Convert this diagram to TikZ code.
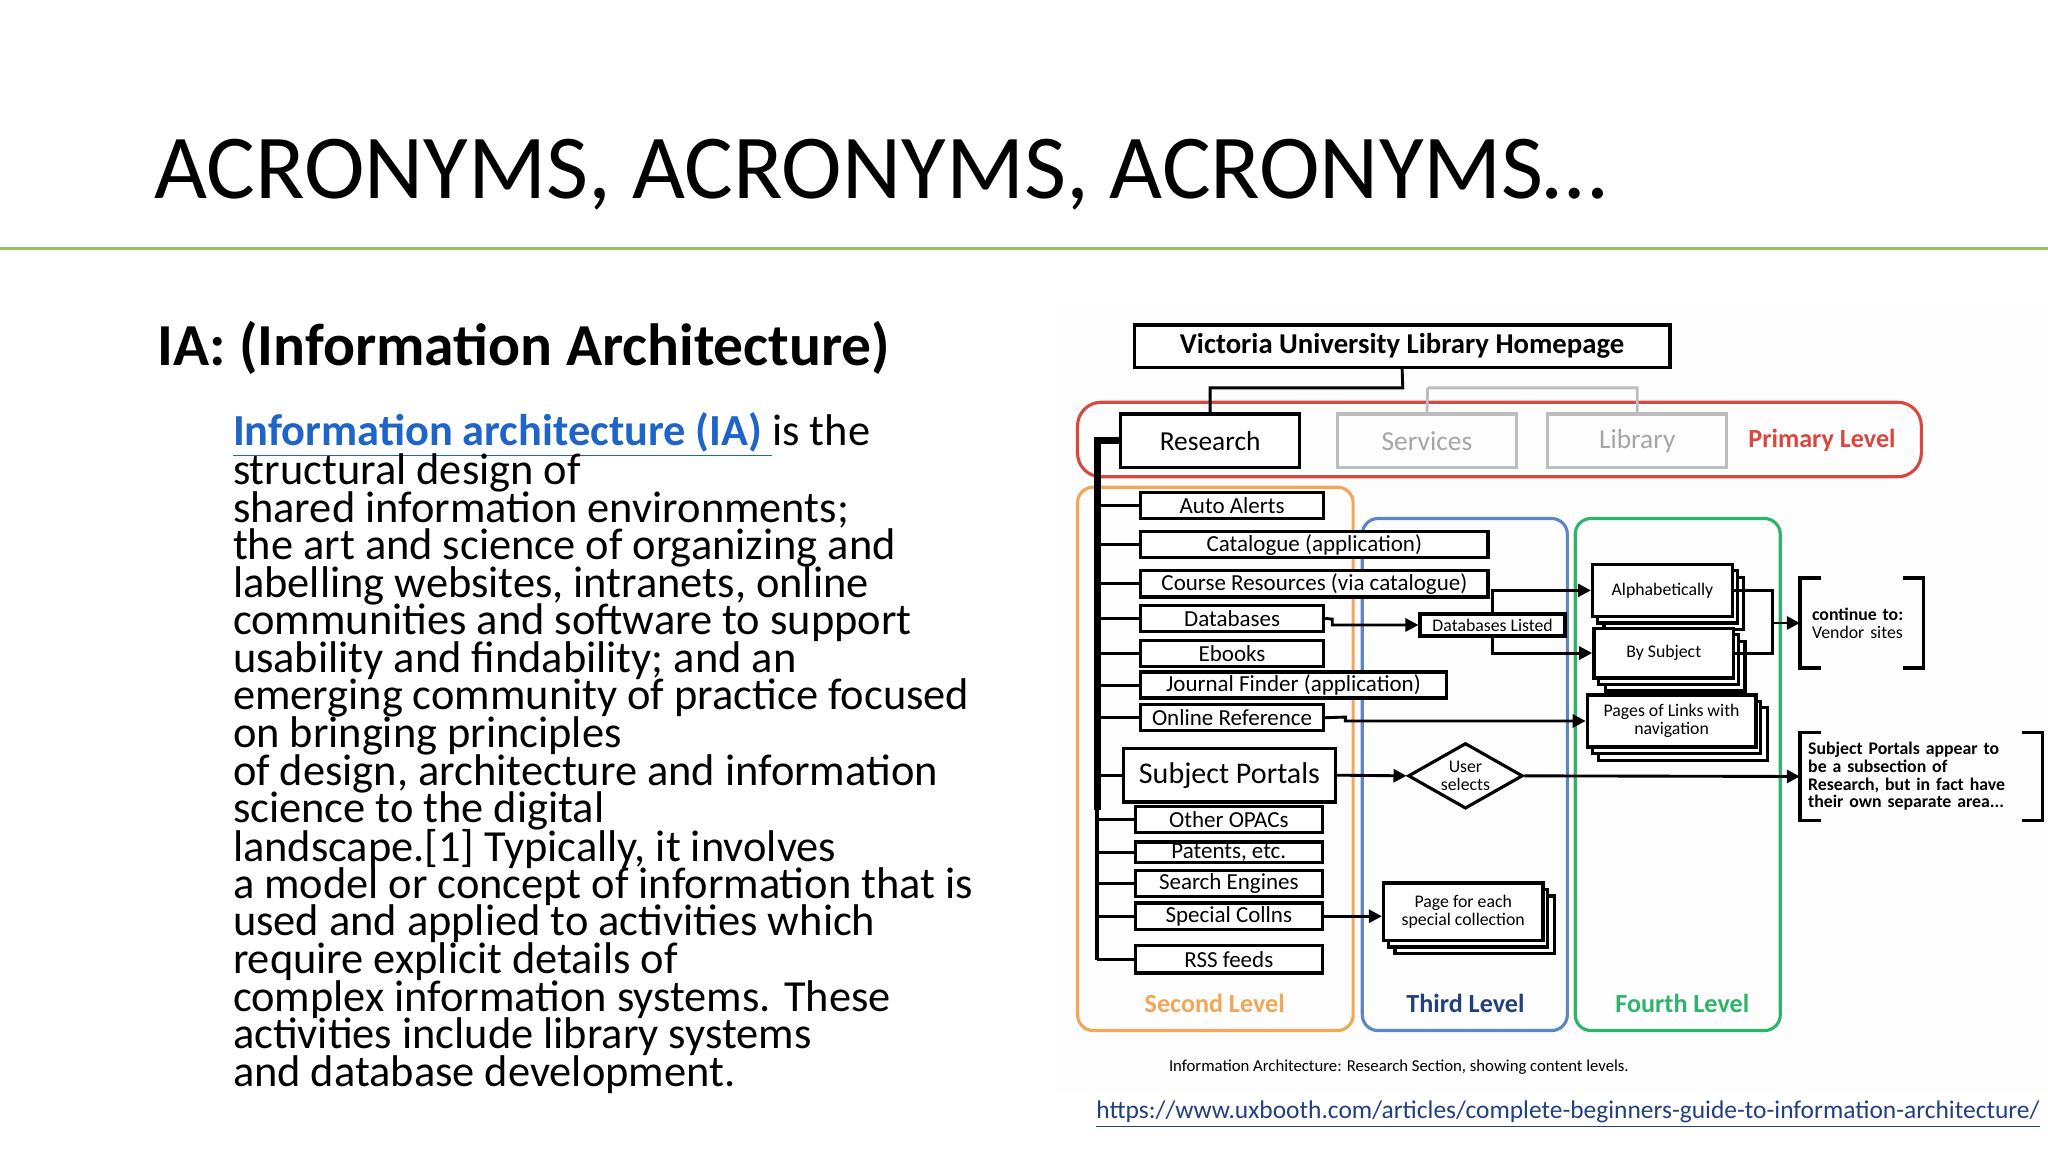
\documentclass[tikz,border=0pt]{standalone}
\usepackage{fontspec}
\setmainfont{Carlito}
\usetikzlibrary{shapes.geometric,arrows.meta}
\definecolor{lvred}{HTML}{D9483E}
\definecolor{lvorange}{HTML}{F2A65A}
\definecolor{lvblue}{HTML}{5C86C4}
\definecolor{lvgreen}{HTML}{2DB46B}
\definecolor{lvnavy}{HTML}{23407E}
\definecolor{lvgray}{HTML}{BDBDBD}
\definecolor{slgreen}{HTML}{92C353}
\definecolor{linkblue}{HTML}{1F64C8}
\newcommand{\fs}[1]{\fontsize{#1}{#1}\selectfont}
\tikzset{
 bx/.style={draw,line width=1.3pt,fill=white,inner sep=0pt,anchor=west,font=\fs{8.8}},
 gbx/.style={draw=lvgray,line width=1.3pt,text=gray!70,minimum width=68.5pt,minimum height=20.5pt,font=\fs{10.5}},
 con/.style={line width=1.1pt},
 arr/.style={line width=1.1pt,-{Triangle[length=5pt,width=5pt]}},
 lvl/.style={rounded corners=6pt,line width=1.2pt},
 plain/.style={inner sep=0pt,anchor=west,font=\fs{17}},
}
\begin{document}
\begin{tikzpicture}[x=0.5pt,y=-0.5pt]
\useasboundingbox (0,0) rectangle (1568,882);
\fill[white] (0,0) rectangle (1568,882);
% title
\node[anchor=base west,inner sep=0pt,font=\fs{35}] (title) at (118,152) {ACRONYMS, ACRONYMS, ACRONYMS…};
\draw[slgreen,line width=1.2pt] (0,190) -- (1568,190);
\node[anchor=base west,inner sep=0pt,font=\bfseries\fs{22.8}] (ia) at (120,280) {IA: (Information Architecture)};
% paragraph
\node[plain] (p1) at (178,333) {\textcolor{linkblue}{\bfseries\underline{Information architecture (IA) }}is the};
\foreach \t [count=\i] in {structural design of,shared information environments;,the art and science of organizing and,labelling websites{,} intranets{,} online,communities and software to support,usability and findability; and an,emerging community of practice focused,on bringing principles,of design{,} architecture and information,science to the digital,landscape.[1] Typically{,} it involves,a model or concept of information that is,used and applied to activities which,require explicit details of,complex information systems. These,activities include library systems,and database development.}
 \node[plain] (pl\i) at (178,333+28.8*\i) {\t};
% diagram background
\fill[gray!1.5] (808,232) rectangle (1568,835);
% level frames
\draw[lvl,lvorange] (825,373) rectangle (1036,789);
\draw[lvl,lvblue] (1043,397) rectangle (1200,789);
\draw[lvl,lvgreen] (1206,397) rectangle (1363,789);
\draw[lvl,lvred,rounded corners=9pt] (825,308) rectangle (1471,365);
% top
\node[draw,line width=1.3pt,fill=white,minimum width=205pt,minimum height=16pt,font=\bfseries\fs{11}] (home) at (1073.5,265) {Victoria University Library Homepage};
\node[draw,line width=1.3pt,fill=white,minimum width=68.5pt,minimum height=20.5pt,font=\fs{10.5}] (res) at (926.5,337.5) {Research};
\node[gbx] (serv) at (1092.5,337.5) {Services};
\node[gbx] (lib) at (1253.5,337.5) {Library};
\node[text=lvred,font=\bfseries\fs{10}] (prim) at (1395,337) {Primary Level};
\draw[lvgray,line width=1.1pt] (1093,297) -- (serv.north) (1093,297) -| (lib.north);
\draw[con] (home.south) -- (1074,297) -| (res.north);
% second level
\draw[line width=2.6pt] (res.west) -| (840,620);
\draw[line width=1.3pt] (840,618) -- (840,735);
\node[bx,minimum width=70pt,minimum height=10pt] (aa) at (872,387) {Auto Alerts};
\node[bx,minimum width=133pt,minimum height=10pt] (cat) at (872,417) {Catalogue (application)};
\node[bx,minimum width=133pt,minimum height=10pt] (cr) at (872,447) {Course Resources (via catalogue)};
\node[bx,minimum width=70pt,minimum height=10pt] (db) at (872,473.5) {Databases};
\node[bx,minimum width=70pt,minimum height=10pt] (eb) at (872,500.5) {Ebooks};
\node[bx,minimum width=117pt,minimum height=10pt] (jf) at (872,524.5) {Journal Finder (application)};
\node[bx,minimum width=70pt,minimum height=10pt] (or) at (872,549.5) {Online Reference};
\node[bx,minimum width=81pt,minimum height=20.5pt,font=\fs{11.5}] (sport) at (859,593.5) {Subject Portals};
\node[bx,minimum width=71.5pt,minimum height=10pt] (op) at (868,627.5) {Other OPACs};
\node[bx,minimum width=71.5pt,minimum height=8pt] (pat) at (868,652.5) {Patents, etc.};
\node[bx,minimum width=71.5pt,minimum height=10pt] (se) at (868,676.5) {Search Engines};
\node[bx,minimum width=71.5pt,minimum height=10pt] (sc) at (868,701.5) {Special Collns};
\node[bx,minimum width=71.5pt,minimum height=10.5pt] (rss) at (868,734.5) {RSS feeds};
\foreach \n in {aa,cat,cr,db,eb,jf,or,sport,op,pat,se,sc,rss}
 \draw[con] (\n.west) -- (\n.west -| 840,0);
% third/fourth level
\node[bx,minimum width=55.5pt,minimum height=8.5pt,font=\fs{6.8}] (dbl) at (1086,478.5) {Databases Listed};
\foreach \d in {10,5} {
 \draw[line width=1.2pt,fill=white] (1218+\d,432+\d) rectangle (1325+\d,472+\d);
 \draw[line width=1.2pt,fill=white] (1219+\d,481+\d) rectangle (1326+\d,519+\d);
 \draw[line width=1.2pt,fill=white] (1214+\d,532+\d) rectangle (1343+\d,572+\d);
 \draw[line width=1.2pt,fill=white] (1058+\d,676+\d) rectangle (1180+\d,720+\d);
}
\node[bx,minimum width=53.5pt,minimum height=20pt,font=\fs{6.8}] (alph) at (1218,452) {Alphabetically};
\node[bx,minimum width=53.5pt,minimum height=19pt,font=\fs{6.8}] (bys) at (1219,500) {By Subject};
\node[bx,minimum width=64.5pt,minimum height=20pt,font=\fs{6.8},align=center] (pol) at (1214,552) {Pages of Links with\\navigation};
\node[bx,minimum width=61pt,minimum height=22pt,font=\fs{6.8},align=center] (pfe) at (1058,698) {Page for each\\special collection};
\node[draw,diamond,aspect=1.75,line width=1.2pt,fill=white,inner sep=1pt,font=\fs{6.8},align=center] (us) at (1122,594) {User\\selects};
% brackets
\node[anchor=west,inner sep=0pt,minimum width=47pt,minimum height=34pt,align=left,font=\fs{6.8},text width=44pt] (ct) at (1378,477) {\hspace*{3pt}\textbf{continue to:}\\\hspace*{3pt}Vendor sites};
\draw[line width=1.3pt] ([xshift=8pt]ct.north west) -- (ct.north west) -- (ct.south west) -- ([xshift=8pt]ct.south west);
\draw[line width=1.3pt] ([xshift=-8pt]ct.north east) -- (ct.north east) -- (ct.south east) -- ([xshift=-8pt]ct.south east);
\node[anchor=west,inner sep=0pt,minimum width=92.5pt,minimum height=33.5pt,font=\bfseries\fs{6.8},align=left,text width=92.5pt] (note) at (1378,594.5) {\hspace*{3pt}Subject Portals appear to\\\hspace*{3pt}be a subsection of\\\hspace*{3pt}Research, but in fact have\\\hspace*{3pt}their own separate area...};
\draw[line width=1.3pt] ([xshift=8pt]note.north west) -- (note.north west) -- (note.south west) -- ([xshift=8pt]note.south west);
\draw[line width=1.3pt] ([xshift=-8pt]note.north east) -- (note.north east) -- (note.south east) -- ([xshift=-8pt]note.south east);
% connectors
\draw[arr] (db.east) -- (1020,474) |- (dbl.west);
\draw[arr] (dbl.north) |- (alph.west);
\draw[arr] (dbl.south) |- (bys.west);
\draw[con] (alph.east) -| (1357,500) -- (bys.east);
\draw[arr] (1357,477) -- (ct.west);
\draw[arr] (or.east) -- (1030,549) |- (pol.west);
\draw[arr] (sport.east) -- (us.west);
\draw[arr] (us.east) -- (note.west);
\draw[arr] (sc.east) -- (pfe.west |- sc.east);
% level labels
\node[text=lvorange,font=\bfseries\fs{10}] (l2) at (930,768) {Second Level};
\node[text=lvnavy,font=\bfseries\fs{10}] (l3) at (1122,768) {Third Level};
\node[text=lvgreen,font=\bfseries\fs{10}] (l4) at (1288,768) {Fourth Level};
\node[font=\fs{6.4}] (cap) at (1071,817) {Information Architecture: Research Section, showing content levels.};
\node[anchor=east,inner sep=0pt,text=lvnavy,font=\fs{9.75}] (url) at (1562,853) {\underline{https://www.uxbooth.com/articles/complete-beginners-guide-to-information-architecture/}};
\end{tikzpicture}
\end{document}
